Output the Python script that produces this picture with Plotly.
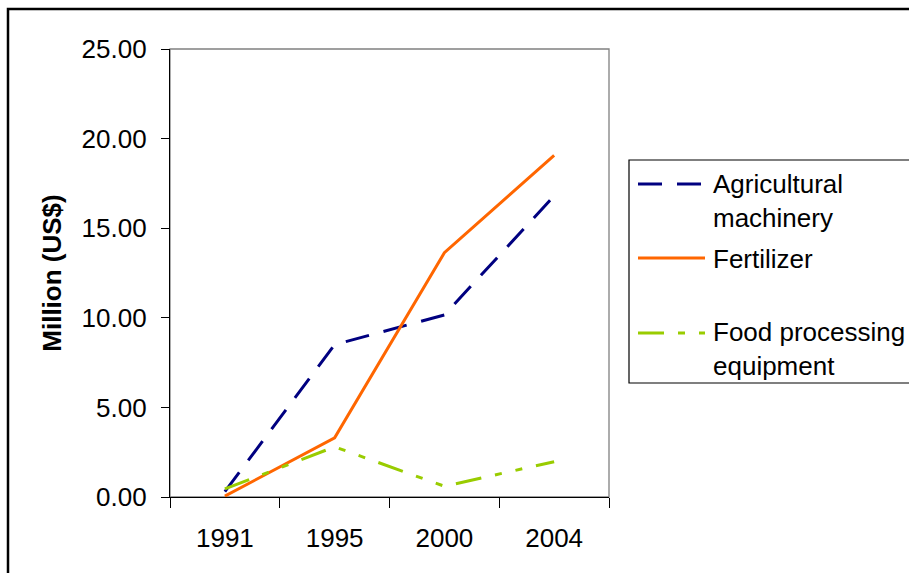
import plotly.graph_objects as go

# ---- data ----
years = ["1991", "1995", "2000", "2004"]
agri_machinery = [0.3, 8.5, 10.16, 16.8]
fertilizer = [0.05, 3.3, 13.63, 19.07]
food_processing = [0.45, 2.8, 0.6, 1.97]
series_names = ["Agricultural<br>machinery", "Fertilizer", "Food processing<br>equipment"]
y_ticks = [0, 5, 10, 15, 20, 25]

# ---- layout geometry (pixels) ----
W, H = 909, 573
L, R, T, B = 170, 609, 49, 497
PW, PH = R - L, B - T

def px2x(px):
    return (px - L) / PW

def px2y(py):
    return (B - py) / PH

FONT = "Liberation Sans, Arial, sans-serif"
FS = 26
colors = ["#000080", "#FF6600", "#99CC00"]
dashes = ["24px,15px", "solid", "26px,14px,7px,14px,7px,14px"]
values = [agri_machinery, fertilizer, food_processing]

fig = go.Figure()
for name, vals, c, d in zip(series_names, values, colors, dashes):
    fig.add_trace(go.Scatter(
        x=years, y=vals, mode="lines", name=name.replace("<br>", " "),
        line=dict(color=c, width=3, dash=d), showlegend=False,
    ))

shapes = []
# plot area border (gray top/right)
shapes.append(dict(type="rect", xref="paper", yref="paper", x0=0, x1=1, y0=0, y1=1,
                   line=dict(color="#808080", width=1.3), layer="below"))
# outer chart border
shapes.append(dict(type="rect", xref="paper", yref="paper",
                   x0=px2x(8), x1=px2x(940), y0=px2y(600), y1=px2y(9),
                   line=dict(color="black", width=2.5)))
# legend box
shapes.append(dict(type="rect", xref="paper", yref="paper",
                   x0=px2x(629), x1=px2x(940), y0=px2y(383), y1=px2y(160),
                   line=dict(color="black", width=1.2)))

annotations = []
sample_y = [184, 258, 333]
text_y = [201, 259, 349]
for sy, ty, c, d, name in zip(sample_y, text_y, colors, dashes, series_names):
    shapes.append(dict(type="line", xref="paper", yref="paper",
                       x0=px2x(638), x1=px2x(705), y0=px2y(sy), y1=px2y(sy),
                       line=dict(color=c, width=3, dash=d)))
    annotations.append(dict(xref="paper", yref="paper", x=px2x(711), y=px2y(ty),
                            xanchor="left", yanchor="middle", align="left",
                            text=name, showarrow=False,
                            font=dict(family=FONT, size=FS, color="black")))

fig.update_layout(
    width=W, height=H,
    margin=dict(l=L, r=W - R, t=T, b=H - B, pad=0),
    paper_bgcolor="white", plot_bgcolor="white",
    shapes=shapes, annotations=annotations,
    font=dict(family=FONT, size=FS, color="black"),
    xaxis=dict(
        type="category", range=[-0.5, 3.5], tickson="boundaries",
        showgrid=False, zeroline=False, showline=True, linecolor="black", linewidth=1.3,
        ticks="outside", ticklen=10, tickwidth=1.3, tickcolor="black",
        ticklabelstandoff=18,
        tickfont=dict(family=FONT, size=FS, color="black"),
    ),
    yaxis=dict(
        range=[0, 25], tickvals=y_ticks, tickformat=".2f",
        showgrid=False, zeroline=False, showline=True, linecolor="black", linewidth=1.3,
        ticks="outside", ticklen=8, tickwidth=1.3, tickcolor="black",
        ticklabelstandoff=9,
        tickfont=dict(family=FONT, size=FS, color="black"),
        title=dict(text="<b>Million (US$)</b>", standoff=12,
                   font=dict(family=FONT, size=FS, color="black")),
    ),
)

fig.write_html("out.html")
